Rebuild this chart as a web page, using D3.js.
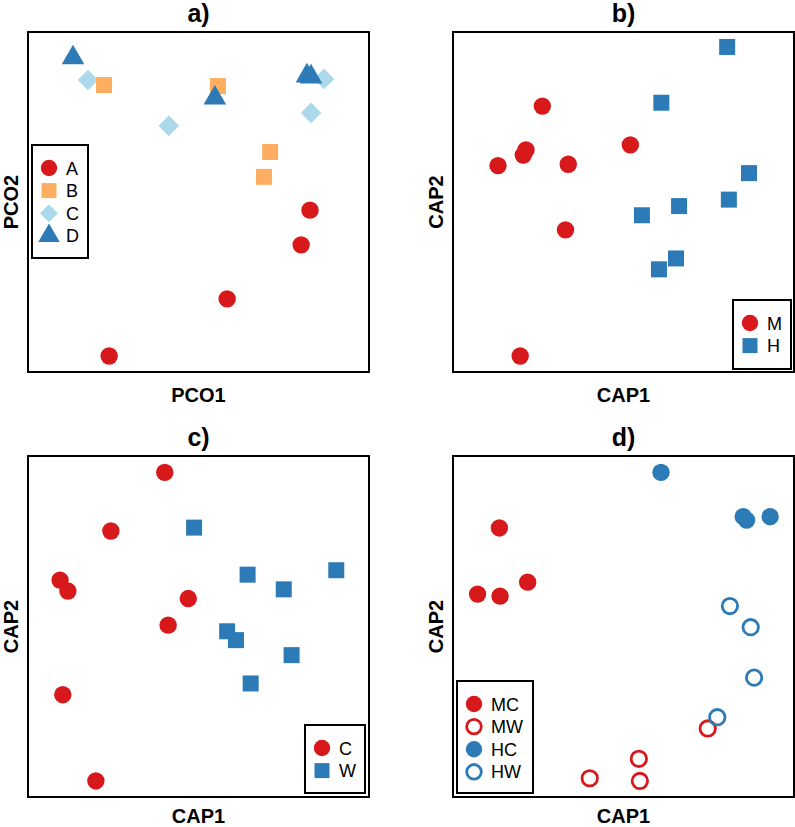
<!DOCTYPE html>
<html><head><meta charset="utf-8">
<script src="https://cdn.jsdelivr.net/npm/d3@7"></script>
<style>body{margin:0;background:#fff}svg{display:block}</style>
</head><body><svg id="chart" width="795" height="827"></svg>
<script>
// ---------- data (ordination scores, arbitrary units 0..100) ----------
const titles = ["a)", "b)", "c)", "d)"];
const xLabels = ["PCO1", "CAP1", "CAP1", "CAP1"];
const yLabels = ["PCO2", "CAP2", "CAP2", "CAP2"];

// panel a
const aGroups = ["A", "B", "C", "D"];
const aA = [[82.7, 47.6], [80.1, 37.4], [58.4, 21.5], [23.8, 4.7]];
const aB = [[22.3, 84.4], [55.7, 84.1], [71.0, 64.7], [69.2, 57.4]];
const aC = [[17.6, 85.9], [41.3, 72.4], [86.8, 86.2], [83.0, 76.2]];
const aD = [[13.2, 92.4], [54.8, 80.6], [81.8, 87.1], [83.0, 86.8]];

// panel b
const bGroups = ["M", "H"];
const bM = [[26.2, 78.2], [21.4, 65.3], [20.6, 63.8], [13.2, 60.7], [33.8, 61.1], [52.0, 66.8], [33.0, 41.8], [19.7, 4.7]];
const bH = [[80.4, 95.6], [61.1, 79.2], [86.8, 58.5], [80.9, 50.7], [66.3, 48.8], [55.4, 46.1], [65.4, 33.4], [60.4, 30.2]];

// panel c
const cGroups = ["C", "W"];
const cC = [[40.1, 95.2], [24.3, 78.0], [9.4, 63.6], [11.7, 60.4], [47.0, 58.2], [41.1, 50.4], [10.2, 30.0], [19.9, 4.7]];
const cW = [[48.7, 79.0], [64.4, 65.2], [90.4, 66.5], [75.0, 60.9], [58.4, 48.6], [61.0, 46.0], [77.3, 41.6], [65.3, 33.3]];

// panel d
const dGroups = ["MC", "MW", "HC", "HW"];
const dMC = [[13.6, 78.9], [7.2, 59.5], [13.8, 58.9], [21.9, 63.0]];
const dMW = [[40.1, 5.5], [54.5, 11.2], [54.8, 4.7], [74.7, 20.1]];
const dHC = [[61.0, 95.2], [85.1, 82.2], [86.1, 81.2], [93.0, 82.2]];
const dHW = [[81.2, 56.0], [87.3, 49.8], [88.3, 35.0], [77.5, 23.4]];

// ---------- styling ----------
const RED = "#d7191c", ORANGE = "#fdae61", LIGHT = "#abd9e9", BLUE = "#2c7bb6";

const panels = [
  { box: [28, 32, 341, 340], xLabOff: 29.5, legend: { x: 32, y: 145, w: 56, h: 113 },
    series: [
      { name: aGroups[0], data: aA, shape: "circle", color: RED },
      { name: aGroups[1], data: aB, shape: "square", color: ORANGE },
      { name: aGroups[2], data: aC, shape: "diamond", color: LIGHT },
      { name: aGroups[3], data: aD, shape: "triangle", color: BLUE }],
    order: [0, 2, 1, 3] },
  { box: [453, 32, 341, 340], xLabOff: 29.5, legend: { x: 733, y: 300, w: 58, h: 69 },
    series: [
      { name: bGroups[0], data: bM, shape: "circle", color: RED },
      { name: bGroups[1], data: bH, shape: "square", color: BLUE }],
    order: [0, 1] },
  { box: [28, 456, 341, 341], xLabOff: 25.5, legend: { x: 305, y: 725, w: 60, h: 68 },
    series: [
      { name: cGroups[0], data: cC, shape: "circle", color: RED },
      { name: cGroups[1], data: cW, shape: "square", color: BLUE }],
    order: [0, 1] },
  { box: [453, 456, 341, 341], xLabOff: 25.5, legend: { x: 457, y: 681, w: 76, h: 112 },
    series: [
      { name: dGroups[0], data: dMC, shape: "circle", color: RED },
      { name: dGroups[1], data: dMW, shape: "ring", color: RED },
      { name: dGroups[2], data: dHC, shape: "circle", color: BLUE },
      { name: dGroups[3], data: dHW, shape: "ring", color: BLUE }],
    order: [0, 1, 2, 3] }
];

const svg = d3.select("#chart");
svg.append("rect").attr("width", 795).attr("height", 827).attr("fill", "#fff");

function symbolPath(shape, s) {
  const p = d3.path();
  if (shape === "circle" || shape === "ring") {
    p.arc(0, 0, s, 0, 2 * Math.PI);
  } else if (shape === "square") {
    p.rect(-s, -s, 2 * s, 2 * s);
  } else if (shape === "diamond") {
    p.moveTo(0, -s); p.lineTo(s, 0); p.lineTo(0, s); p.lineTo(-s, 0); p.closePath();
  } else if (shape === "triangle") {
    const h = s * Math.sqrt(3) / 2; // s = side length
    p.moveTo(0, -2 * h / 3); p.lineTo(s / 2, h / 3); p.lineTo(-s / 2, h / 3); p.closePath();
  }
  return p.toString();
}
const plotSize = { circle: 8.7, ring: 7.7, square: 8, diamond: 10.3, triangle: 22.6 };
const legSize = { circle: 8.2, ring: 7.3, square: 7.5, diamond: 9, triangle: 21.5 };

function drawSym(g, shape, color, x, y, sizes) {
  const el = g.append("path")
    .attr("d", symbolPath(shape, sizes[shape]))
    .attr("transform", `translate(${x},${y})`);
  if (shape === "ring") el.attr("fill", "none").attr("stroke", color).attr("stroke-width", 2.8);
  else el.attr("fill", color);
}

const FONT = "Liberation Sans, Arial, sans-serif";

panels.forEach((P, i) => {
  const [bx, by, bw, bh] = P.box;
  const g = svg.append("g");
  const x = d3.scaleLinear().domain([0, 100]).range([bx, bx + bw]);
  const y = d3.scaleLinear().domain([0, 100]).range([by + bh, by]);

  // title
  g.append("text").attr("x", bx + bw / 2).attr("y", by - 10)
    .attr("text-anchor", "middle").attr("font-family", FONT)
    .attr("font-weight", "bold").attr("font-size", 25).text(titles[i]);
  // axis labels
  g.append("text").attr("x", bx + bw / 2).attr("y", by + bh + P.xLabOff)
    .attr("text-anchor", "middle").attr("font-family", FONT)
    .attr("font-weight", "bold").attr("font-size", 20).text(xLabels[i]);
  g.append("text").attr("transform", `translate(${bx - 10},${by + bh / 2}) rotate(-90)`)
    .attr("text-anchor", "middle").attr("font-family", FONT)
    .attr("font-weight", "bold").attr("font-size", 20).text(yLabels[i]);

  // points
  const pg = g.append("g");
  P.order.forEach(k => {
    const s = P.series[k];
    s.data.forEach(d => drawSym(pg, s.shape, s.color, x(d[0]), y(d[1]), plotSize));
  });

  // frame
  g.append("rect").attr("x", bx).attr("y", by).attr("width", bw).attr("height", bh)
    .attr("fill", "none").attr("stroke", "#000").attr("stroke-width", 2);

  // legend
  const L = P.legend;
  const lg = g.append("g");
  lg.append("rect").attr("x", L.x).attr("y", L.y).attr("width", L.w).attr("height", L.h)
    .attr("fill", "#fff").attr("stroke", "#000").attr("stroke-width", 2);
  P.series.forEach((s, j) => {
    const cy = L.y + 23 + j * 22.6;
    drawSym(lg, s.shape, s.color, L.x + 17, cy, legSize);
    lg.append("text").attr("x", L.x + 34).attr("y", cy + 6.5)
      .attr("font-family", FONT).attr("font-size", 18)
      .text(s.name);
  });
});
</script>
</body></html>
